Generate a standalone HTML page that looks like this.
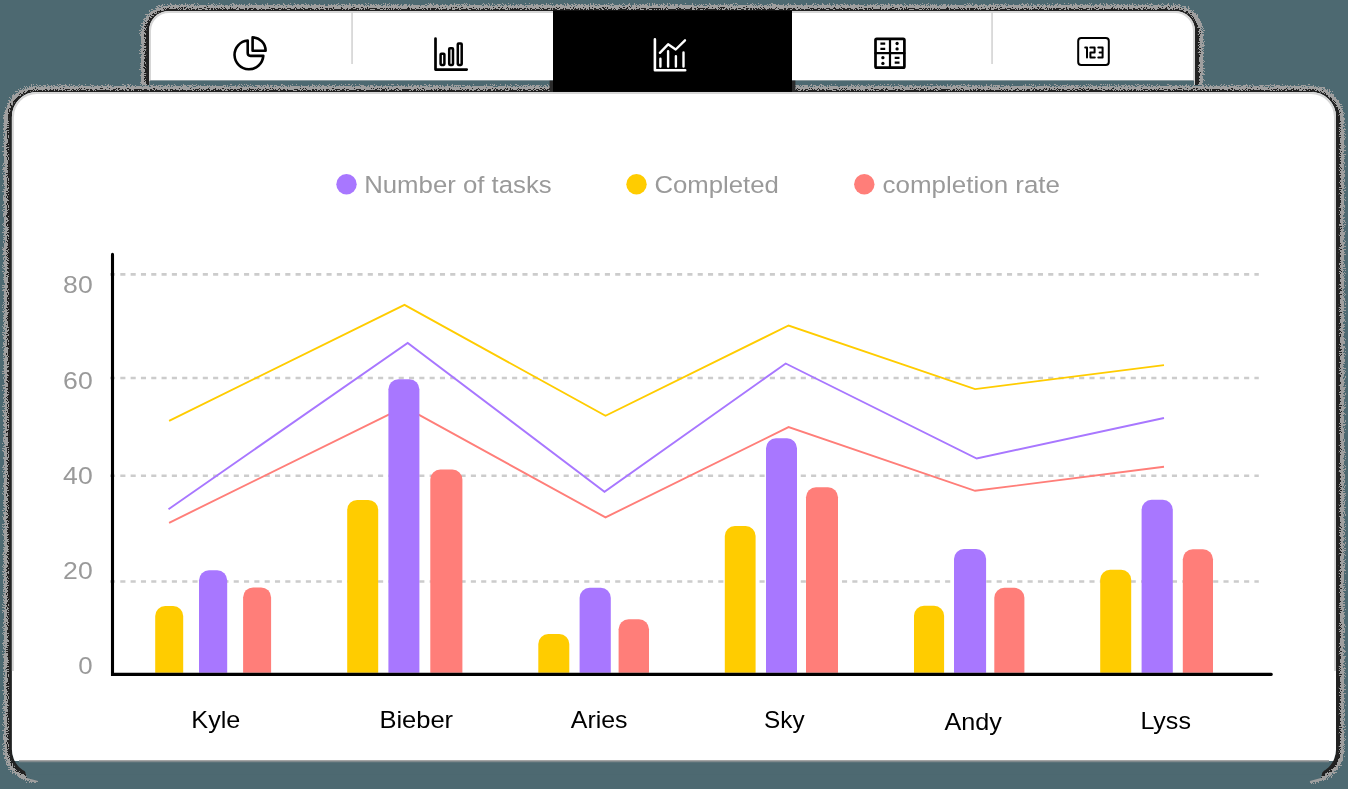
<!DOCTYPE html>
<html><head><meta charset="utf-8"><title>Chart</title>
<style>html,body{margin:0;padding:0;background:#4d6971}body{width:1348px;height:789px}svg{display:block;position:absolute;left:0;top:0}text{font-family:"Liberation Sans",sans-serif}</style>
</head><body>
<svg width="1348" height="789" viewBox="0 0 1348 789">
<defs>
<filter id="dith" filterUnits="userSpaceOnUse" x="0" y="0" width="1348" height="789" color-interpolation-filters="sRGB"><feGaussianBlur in="SourceAlpha" stdDeviation="2.3" result="b0"/><feOffset in="b0" dy="1.6" result="b"/><feTurbulence type="fractalNoise" baseFrequency="0.95" numOctaves="1" seed="5" result="t"/><feColorMatrix in="t" type="matrix" values="0 0 0 0 0 0 0 0 0 0 0 0 0 0 0 1 0 0 0 0" result="n"/><feComposite in="b" in2="n" operator="arithmetic" k1="0" k2="1" k3="1.1" k4="-0.55" result="m"/><feComponentTransfer in="m" result="ad"><feFuncA type="discrete" tableValues="0 0 0 0 0 0 0 0 0 0 0 0 0 0 0 0 0 0 0 0 0 0 0 0 0 0 0 0 0 0 0 0 0 0 0 0 0 0 0 0 0 0 1 1 1 1 1 1 1 1"/></feComponentTransfer><feComponentTransfer in="m" result="ag0"><feFuncA type="discrete" tableValues="0 0 0 0 0 0 0 0 0 0 0 1 1 1 1 1 1 1 1 1 1 1 1 1 1 1 1 1 1 1 1 1 1 1 1 1 1 1 1 1 1 1 1 1 1 1 1 1 1 1"/></feComponentTransfer><feComponentTransfer in="b" result="bm"><feFuncA type="discrete" tableValues="0 1 1 1 1 1 1 1 1 1 1 1 1 1 1 1 1 1 1 1"/></feComponentTransfer><feComposite in="ag0" in2="bm" operator="in" result="ag"/><feFlood flood-color="#222222" result="fd"/><feComposite in="fd" in2="ad" operator="in" result="ld"/><feFlood flood-color="#9f9f9f" result="fg"/><feComposite in="fg" in2="ag" operator="in" result="lg"/><feMerge><feMergeNode in="lg"/><feMergeNode in="ld"/></feMerge></filter>
<filter id="dith0" filterUnits="userSpaceOnUse" x="0" y="0" width="1348" height="789" color-interpolation-filters="sRGB"><feGaussianBlur in="SourceAlpha" stdDeviation="2.3" result="b0"/><feOffset in="b0" dy="0" result="b"/><feTurbulence type="fractalNoise" baseFrequency="0.95" numOctaves="1" seed="5" result="t"/><feColorMatrix in="t" type="matrix" values="0 0 0 0 0 0 0 0 0 0 0 0 0 0 0 1 0 0 0 0" result="n"/><feComposite in="b" in2="n" operator="arithmetic" k1="0" k2="1" k3="1.1" k4="-0.55" result="m"/><feComponentTransfer in="m" result="ad"><feFuncA type="discrete" tableValues="0 0 0 0 0 0 0 0 0 0 0 0 0 0 0 0 0 0 0 0 0 0 0 0 0 0 0 0 0 0 0 0 0 0 0 0 0 0 0 0 0 0 1 1 1 1 1 1 1 1"/></feComponentTransfer><feComponentTransfer in="m" result="ag0"><feFuncA type="discrete" tableValues="0 0 0 0 0 0 0 0 0 0 0 1 1 1 1 1 1 1 1 1 1 1 1 1 1 1 1 1 1 1 1 1 1 1 1 1 1 1 1 1 1 1 1 1 1 1 1 1 1 1"/></feComponentTransfer><feComponentTransfer in="b" result="bm"><feFuncA type="discrete" tableValues="0 1 1 1 1 1 1 1 1 1 1 1 1 1 1 1 1 1 1 1"/></feComponentTransfer><feComposite in="ag0" in2="bm" operator="in" result="ag"/><feFlood flood-color="#222222" result="fd"/><feComposite in="fd" in2="ad" operator="in" result="ld"/><feFlood flood-color="#9f9f9f" result="fg"/><feComposite in="fg" in2="ag" operator="in" result="lg"/><feMerge><feMergeNode in="lg"/><feMergeNode in="ld"/></feMerge></filter>
<clipPath id="cTab"><rect x="130" y="0" width="1090" height="80.6"/><rect x="130" y="80" width="19.2" height="5"/><rect x="1194.3" y="80" width="20" height="5"/></clipPath>
<clipPath id="cCard"><rect x="0" y="80" width="1348" height="681.2"/><polygon points="0,761 19,761 25.5,773 27,778 38,781 38,789 0,789"/><polygon points="1347.9,761 1328.9,761 1322.4,773 1320.9,778 1309.9,781 1309.9,789 1347.9,789"/></clipPath>
<clipPath id="cTopHalf"><rect x="0" y="0" width="1348" height="120"/></clipPath><clipPath id="cBotHalf"><rect x="0" y="120" width="1348" height="669"/></clipPath><clipPath id="cLight"><rect x="0" y="80" width="1348" height="591"/></clipPath><clipPath id="cCardFill"><rect x="0" y="80" width="1348" height="681"/></clipPath>
</defs>
<rect width="1348" height="789" fill="#4d6971"/>
<g clip-path="url(#cTab)">
<path d="M149.0 86V30.9A20 20 0 0 1 169.0 10.9H1175.0A20 20 0 0 1 1195.0 30.9V86" fill="none" stroke="#000" stroke-width="13.0" filter="url(#dith)"/>
<path d="M149.0 86V30.9A20 20 0 0 1 169.0 10.9H1175.0A20 20 0 0 1 1195.0 30.9V86" fill="none" stroke="#222222" stroke-width="5.6" transform="translate(0,1.9)"/>
<path d="M149.0 86V30.9A20 20 0 0 1 169.0 10.9H1175.0A20 20 0 0 1 1195.0 30.9V86Z" fill="#fff"/>
<path d="M150.0 86V30.9A19 19 0 0 1 169.0 11.9H1175.0A19 19 0 0 1 1194.0 30.9V86" fill="none" stroke="#d6d6d6" stroke-width="2"/>
</g>
<rect x="150" y="80" width="1044" height="1" fill="#8c9a9e"/>
<rect x="351.3" y="12" width="1.5" height="52" fill="#d0d0d0"/>
<rect x="991.3" y="12" width="1.5" height="52" fill="#d0d0d0"/>
<g clip-path="url(#cCard)">
<g clip-path="url(#cTopHalf)"><path d="M11.9 116.9A25 25 0 0 1 36.9 91.9H1311.0A25 25 0 0 1 1336.0 116.9V749.5A25 25 0 0 1 1311.0 774.5H36.9A25 25 0 0 1 11.9 749.5Z" fill="none" stroke="#000" stroke-width="13.0" filter="url(#dith)"/></g>
<g clip-path="url(#cBotHalf)"><path d="M11.9 116.9A25 25 0 0 1 36.9 91.9H1311.0A25 25 0 0 1 1336.0 116.9V749.5A25 25 0 0 1 1311.0 774.5H36.9A25 25 0 0 1 11.9 749.5Z" fill="none" stroke="#000" stroke-width="13.0" filter="url(#dith0)"/></g>
<g clip-path="url(#cTopHalf)"><path d="M11.9 116.9A25 25 0 0 1 36.9 91.9H1311.0A25 25 0 0 1 1336.0 116.9V749.5A25 25 0 0 1 1311.0 774.5H36.9A25 25 0 0 1 11.9 749.5Z" fill="none" stroke="#222222" stroke-width="5.6" transform="translate(0,2)"/></g>
<g clip-path="url(#cBotHalf)"><path d="M11.9 116.9A25 25 0 0 1 36.9 91.9H1311.0A25 25 0 0 1 1336.0 116.9V749.5A25 25 0 0 1 1311.0 774.5H36.9A25 25 0 0 1 11.9 749.5Z" fill="none" stroke="#222222" stroke-width="5.6"/></g>
</g>
<path d="M11.9 116.9A25 25 0 0 1 36.9 91.9H1311.0A25 25 0 0 1 1336.0 116.9V749.5A25 25 0 0 1 1311.0 774.5H36.9A25 25 0 0 1 11.9 749.5Z" fill="#4d6971"/>
<g clip-path="url(#cCardFill)">
<path d="M11.9 116.9A25 25 0 0 1 36.9 91.9H1311.0A25 25 0 0 1 1336.0 116.9V749.5A25 25 0 0 1 1311.0 774.5H36.9A25 25 0 0 1 11.9 749.5Z" fill="#fff"/>
<path d="M12.9 116.9A24 24 0 0 1 36.9 92.9H1311.0A24 24 0 0 1 1335.0 116.9V749.5A24 24 0 0 1 1311.0 773.5H36.9A24 24 0 0 1 12.9 749.5Z" fill="none" stroke="#d6d6d6" stroke-width="2" clip-path="url(#cLight)"/>
</g>
<rect x="19" y="760.1" width="1310" height="1.5" fill="#9c9c9c"/><rect x="19" y="761.6" width="1310" height="0.9" fill="#9c9c9c" opacity="0.35"/>
<rect x="549.6" y="80.6" width="4" height="11" fill="#2b2b2b"/><rect x="791.5" y="80.6" width="3.9" height="11" fill="#2b2b2b"/>
<rect x="553" y="10.5" width="239" height="81.3" fill="#000"/>
<g fill="none" stroke="#000" stroke-width="2.6" stroke-linejoin="round" stroke-linecap="round">
<path d="M247.7 40.5A14.4 14.4 0 1 0 263.3 55.9H250.5a2.8 2.8 0 0 1 -2.8 -2.8Z"/>
<path d="M252.6 37.4A13.3 13.3 0 0 1 265.6 50.8H252.6Z"/>
</g>
<g fill="none" stroke="#000" stroke-width="2.7" stroke-linejoin="round" stroke-linecap="round">
<path d="M435.5 38.5V69.6H466.7"/>
<rect x="440.6" y="53.7" width="3.8" height="11.2" rx="0.8" stroke-width="2.5"/>
<rect x="449.2" y="48.3" width="3.8" height="16.6" rx="0.8" stroke-width="2.5"/>
<rect x="457.8" y="43.4" width="3.9" height="21.5" rx="0.8" stroke-width="2.5"/>
</g>
<g fill="none" stroke="#fff" stroke-width="2.6" stroke-linejoin="round" stroke-linecap="round">
<path d="M654.9 39.4V70.3H685.2"/>
<path d="M660.4 58.8V66.5M668.1 51.3V66.5M675.9 56.3V66.5M683.5 52.5V66.5" stroke-width="2.4"/>
<path d="M659.9 52.8L668.1 44.3L675.7 49.5L685 40.3" stroke-width="2.4"/>
</g>
<g fill="none" stroke="#000" stroke-linejoin="round" stroke-linecap="round">
<rect x="875.5" y="38.9" width="28.9" height="28.7" rx="1.2" stroke-width="2.7"/>
<path d="M890 39V67.5M875.5 53.2H904.4" stroke-width="2.2"/>
<path d="M880.4 43.6H885.2M880.4 48.8H885.2M894.7 57.9H899.5M894.7 62.7H899.5" stroke-width="2.2" stroke-linecap="butt"/>
</g>
<g fill="#000"><circle cx="897.1" cy="43.5" r="1.65"/><circle cx="897.1" cy="48.9" r="1.65"/><circle cx="882.9" cy="57.7" r="1.65"/><circle cx="882.9" cy="63.4" r="1.65"/></g>
<g fill="none" stroke="#000" stroke-linejoin="round" stroke-linecap="round">
<rect x="1078.2" y="37.9" width="30.6" height="27" rx="3" stroke-width="2"/>
<path d="M1085.2 47.6H1087V57.5M1090.3 47.6H1094.6V52.5H1090.4V57.4H1094.8M1098.3 47.6H1102.6V57.4H1098.3M1099.6 52.5H1102.6" stroke-width="2"/>
</g>
<g opacity="0.999">
<circle cx="346.5" cy="184.2" r="10.2" fill="#a877ff"/>
<text x="364.2" y="193" font-size="24.3" fill="#9a9a9a" textLength="187.5" lengthAdjust="spacingAndGlyphs">Number of tasks</text>
<circle cx="636.5" cy="184.2" r="10.2" fill="#ffcc00"/>
<text x="654.4" y="193" font-size="24.3" fill="#9a9a9a" textLength="124.4" lengthAdjust="spacingAndGlyphs">Completed</text>
<circle cx="864.3" cy="184.2" r="10.2" fill="#ff7e79"/>
<text x="882.5999999999999" y="193" font-size="24.3" fill="#9a9a9a" textLength="177.4" lengthAdjust="spacingAndGlyphs">completion rate</text>
</g>
<line x1="110" y1="274.4" x2="1258.8" y2="274.4" stroke="#cccccc" stroke-width="2.6" stroke-dasharray="5.1 5.21"/>
<line x1="110" y1="378.0" x2="1258.8" y2="378.0" stroke="#cccccc" stroke-width="2.6" stroke-dasharray="5.1 5.21"/>
<line x1="110" y1="475.7" x2="1258.8" y2="475.7" stroke="#cccccc" stroke-width="2.6" stroke-dasharray="5.1 5.21"/>
<line x1="110" y1="581.5" x2="1258.8" y2="581.5" stroke="#cccccc" stroke-width="2.6" stroke-dasharray="5.1 5.21"/>
<polyline points="169.1,420.8 404.5,304.9 605.5,415.8 788.6,325.5 975.1,389.1 1164,365.1" fill="none" stroke="#ffcc00" stroke-width="1.9" stroke-linejoin="miter"/>
<polyline points="168.5,509.2 407.7,342.9 604.5,491.8 785.7,363.5 976.7,458.5 1164,418.0" fill="none" stroke="#a877ff" stroke-width="1.9" stroke-linejoin="miter"/>
<polyline points="169.1,522.8 404.5,406.9 605.5,517.4 788.6,427.1 975.1,490.8 1164,466.8" fill="none" stroke="#ff7e79" stroke-width="1.9" stroke-linejoin="miter"/>
<path d="M155.2 672.7V616.1A10 10 0 0 1 165.2 606.1H173.2A10 10 0 0 1 183.2 616.1V672.7Z" fill="#ffcc00"/>
<path d="M199.0 672.7V580.2A10 10 0 0 1 209.0 570.2H217.2A10 10 0 0 1 227.2 580.2V672.7Z" fill="#a877ff"/>
<path d="M243.1 672.7V597.4A10 10 0 0 1 253.1 587.4H261.1A10 10 0 0 1 271.1 597.4V672.7Z" fill="#ff7e79"/>
<path d="M347.2 672.7V509.9A10 10 0 0 1 357.2 499.9H368.2A10 10 0 0 1 378.2 509.9V672.7Z" fill="#ffcc00"/>
<path d="M388.4 672.7V389.3A10 10 0 0 1 398.4 379.3H409.4A10 10 0 0 1 419.4 389.3V672.7Z" fill="#a877ff"/>
<path d="M430.3 672.7V479.5A10 10 0 0 1 440.3 469.5H452.4A10 10 0 0 1 462.4 479.5V672.7Z" fill="#ff7e79"/>
<path d="M538.3 672.7V644.1A10 10 0 0 1 548.3 634.1H559.3A10 10 0 0 1 569.3 644.1V672.7Z" fill="#ffcc00"/>
<path d="M579.6 672.7V597.8A10 10 0 0 1 589.6 587.8H600.8A10 10 0 0 1 610.8 597.8V672.7Z" fill="#a877ff"/>
<path d="M618.6 672.7V629.3A10 10 0 0 1 628.6 619.3H639.0A10 10 0 0 1 649.0 629.3V672.7Z" fill="#ff7e79"/>
<path d="M724.8 672.7V536.0A10 10 0 0 1 734.8 526.0H745.6A10 10 0 0 1 755.6 536.0V672.7Z" fill="#ffcc00"/>
<path d="M766.0 672.7V448.2A10 10 0 0 1 776.0 438.2H787.0A10 10 0 0 1 797.0 448.2V672.7Z" fill="#a877ff"/>
<path d="M806.0 672.7V497.2A10 10 0 0 1 816.0 487.2H828.0A10 10 0 0 1 838.0 497.2V672.7Z" fill="#ff7e79"/>
<path d="M914.0 672.7V615.8A10 10 0 0 1 924.0 605.8H934.1A10 10 0 0 1 944.1 615.8V672.7Z" fill="#ffcc00"/>
<path d="M954.0 672.7V559.0A10 10 0 0 1 964.0 549.0H976.1A10 10 0 0 1 986.1 559.0V672.7Z" fill="#a877ff"/>
<path d="M994.3 672.7V597.8A10 10 0 0 1 1004.3 587.8H1014.4A10 10 0 0 1 1024.4 597.8V672.7Z" fill="#ff7e79"/>
<path d="M1100.2 672.7V579.8A10 10 0 0 1 1110.2 569.8H1121.2A10 10 0 0 1 1131.2 579.8V672.7Z" fill="#ffcc00"/>
<path d="M1141.6 672.7V509.8A10 10 0 0 1 1151.6 499.8H1162.8A10 10 0 0 1 1172.8 509.8V672.7Z" fill="#a877ff"/>
<path d="M1182.8 672.7V559.2A10 10 0 0 1 1192.8 549.2H1203.0A10 10 0 0 1 1213.0 559.2V672.7Z" fill="#ff7e79"/>
<path d="M112.5 254.4V674.35H1271.3" fill="none" stroke="#000" stroke-width="3.1" stroke-linecap="round" stroke-linejoin="miter"/>
<g opacity="0.999">
<text x="63.1" y="293.3" font-size="24.4" fill="#9a9a9a" textLength="29.6" lengthAdjust="spacingAndGlyphs">80</text>
<text x="63.1" y="388.6" font-size="24.4" fill="#9a9a9a" textLength="29.6" lengthAdjust="spacingAndGlyphs">60</text>
<text x="63.1" y="484.0" font-size="24.4" fill="#9a9a9a" textLength="29.6" lengthAdjust="spacingAndGlyphs">40</text>
<text x="63.1" y="579.0" font-size="24.4" fill="#9a9a9a" textLength="29.6" lengthAdjust="spacingAndGlyphs">20</text>
<text x="78.3" y="674.4" font-size="24.4" fill="#9a9a9a" textLength="14.4" lengthAdjust="spacingAndGlyphs">0</text>
<text x="191.3" y="727.9" font-size="24" fill="#000" textLength="49.1" lengthAdjust="spacingAndGlyphs">Kyle</text>
<text x="379.4" y="727.9" font-size="24" fill="#000" textLength="73.7" lengthAdjust="spacingAndGlyphs">Bieber</text>
<text x="570.8" y="727.9" font-size="24" fill="#000" textLength="56.7" lengthAdjust="spacingAndGlyphs">Aries</text>
<text x="764.1" y="728.4" font-size="24" fill="#000" textLength="40.5" lengthAdjust="spacingAndGlyphs">Sky</text>
<text x="944.5" y="729.9" font-size="24" fill="#000" textLength="57.3" lengthAdjust="spacingAndGlyphs">Andy</text>
<text x="1140.4" y="728.8" font-size="24" fill="#000" textLength="50.5" lengthAdjust="spacingAndGlyphs">Lyss</text>
</g>
</svg>
</body></html>
